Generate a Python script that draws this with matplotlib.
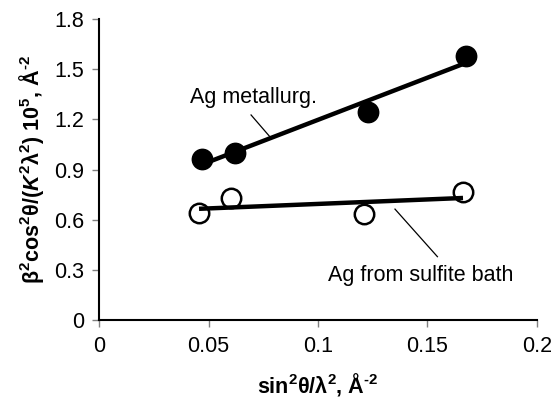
import numpy as np
import matplotlib
matplotlib.use('Agg')
import matplotlib.pyplot as plt

plt.rcParams['font.family'] = ['Liberation Sans', 'DejaVu Sans']
plt.rcParams['mathtext.fontset'] = 'custom'
plt.rcParams['mathtext.rm'] = 'Liberation Sans:bold'
plt.rcParams['mathtext.bf'] = 'Liberation Sans:bold'
plt.rcParams['mathtext.it'] = 'Liberation Sans:bold:italic'

# datos
x_metal = [0.0469, 0.0621, 0.1228, 0.1678]
y_metal = [0.963, 0.999, 1.247, 1.581]
x_sulf = [0.0456, 0.0602, 0.1209, 0.1663]
y_sulf = [0.641, 0.734, 0.637, 0.768]

xticks = [0, 0.05, 0.1, 0.15, 0.2]
xtick_labels = ['0', '0.05', '0.1', '0.15', '0.2']
yticks = [0, 0.3, 0.6, 0.9, 1.2, 1.5, 1.8]
ytick_labels = ['0', '0.3', '0.6', '0.9', '1.2', '1.5', '1.8']

fig = plt.figure(figsize=(5.54, 4.12), dpi=100)
ax = fig.add_axes([0.1792, 0.2221, 0.7896, 0.7318])

# rectas de ajuste (minimos cuadrados)
for xs, ys in [(x_metal, y_metal), (x_sulf, y_sulf)]:
    p = np.polyfit(xs, ys, 1)
    xl = np.array([min(xs), max(xs)])
    ax.plot(xl, np.polyval(p, xl), color='black', lw=3.2, zorder=3, solid_capstyle='butt')

ax.plot(x_metal, y_metal, 'o', ms=14.5, mfc='black', mec='black', mew=1.2, zorder=4, clip_on=False)
ax.plot(x_sulf, y_sulf, 'o', ms=14, mfc='none', mec='black', mew=1.8, zorder=2, clip_on=False)

# etiquetas con lineas guia
ax.plot([0.0694, 0.0781], [1.227, 1.0955], color='black', lw=0.9)
ax.text(0.0415, 1.30, 'Ag metallurg.', fontsize=15.5, va='baseline', ha='left')
ax.plot([0.1352, 0.1546], [0.665, 0.381], color='black', lw=0.9)
ax.text(0.1044, 0.236, 'Ag from sulfite bath', fontsize=15.5, va='baseline', ha='left')

ax.set_xlim(0, 0.2)
ax.set_ylim(0, 1.8)
ax.set_xticks(xticks)
ax.set_xticklabels(xtick_labels)
ax.set_yticks(yticks)
ax.set_yticklabels(ytick_labels)
ax.tick_params(direction='out', length=5, width=1, color='#808080', labelsize=15.5, pad=6)

for s in ['top', 'right']:
    ax.spines[s].set_visible(False)
for s in ['left', 'bottom']:
    ax.spines[s].set_linewidth(1.5)

ax.set_xlabel(r'sin$^2$θ/λ$^2$, Å$^{\text{-}2}$', fontsize=15.5, fontweight='bold', labelpad=10)
ax.set_ylabel(r'β$^2$cos$^2$θ/($\mathit{K}^2$λ$^2$) 10$^5$, Å$^{\text{-}2}$', fontsize=15.5,
              fontweight='bold', labelpad=6)

fig.savefig('out.png', dpi=100)
